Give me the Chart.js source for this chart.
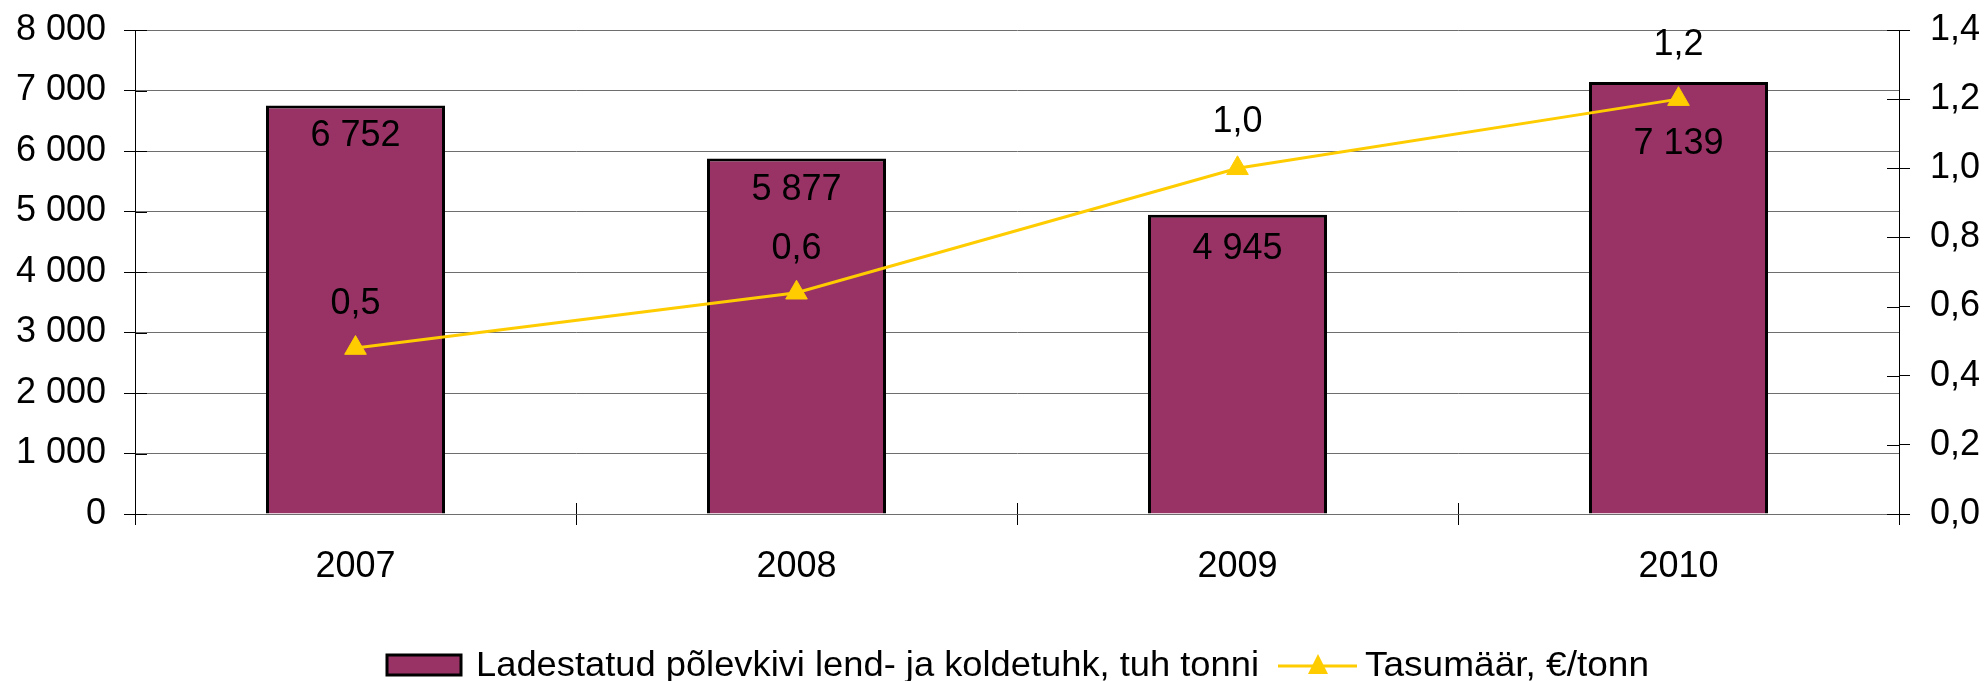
<!DOCTYPE html>
<html>
<head>
<meta charset="utf-8">
<script src="https://cdn.jsdelivr.net/npm/chart.js@4"></script>
<style>
  html, body { margin: 0; padding: 0; background: #fff; }
  canvas { display: block; }
</style>
</head>
<body>
<canvas id="ashChart" width="1986" height="681"></canvas>
<script>
// Chart data
const years = ['2007', '2008', '2009', '2010'];
const ashTonnes = [6752, 5877, 4945, 7139];
const feeRate = [0.48, 0.64, 1.0, 1.2];
const leftTicks = [0, 1000, 2000, 3000, 4000, 5000, 6000, 7000, 8000];
const rightTicks = [0, 0.2, 0.4, 0.6, 0.8, 1.0, 1.2, 1.4];

const barLabel = 'Ladestatud põlevkivi lend- ja koldetuhk, tuh tonni';
const lineLabel = 'Tasumäär, €/tonn';

const BAR_COLOR = '#993366';
const LINE_COLOR = '#FFCC00';
const FONT = '"Liberation Sans", Arial, sans-serif';

Chart.defaults.font.family = FONT;
Chart.defaults.color = '#000';

function withSpace(v) {
    return String(Math.round(v)).replace(/\B(?=(\d{3})+(?!\d))/g, ' ');
}
function withComma(v) {
    return v.toFixed(1).replace('.', ',');
}

// Value labels drawn over bars and points
const valueLabels = {
    id: 'valueLabels',
    afterDatasetsDraw(chart, args, opts) {
        const ctx = chart.ctx;
        ctx.save();
        ctx.font = '36px ' + FONT;
        ctx.fillStyle = '#000';
        ctx.textAlign = 'center';
        ctx.textBaseline = 'middle';
        chart.getDatasetMeta(0).data.forEach((bar, i) => {
            ctx.fillText(withSpace(ashTonnes[i]), bar.x, bar.y + opts.barShift[i]);
        });
        chart.getDatasetMeta(1).data.forEach((pt, i) => {
            ctx.fillText(withComma(feeRate[i]), pt.x, pt.y - opts.lineShift[i]);
        });
        ctx.restore();
    }
};

// Inner half of the axis tick marks (Excel draws them crossing the axis)
const crossTicks = {
    id: 'crossTicks',
    afterDraw(chart) {
        const ctx = chart.ctx;
        const { y, y1, x } = chart.scales;
        ctx.save();
        ctx.strokeStyle = '#000';
        ctx.lineWidth = 1;
        ctx.beginPath();
        y.ticks.forEach(t => {
            const py = Math.round(y.getPixelForValue(t.value)) + 0.5;
            ctx.moveTo(y.right, py); ctx.lineTo(y.right + 12, py);
        });
        y1.ticks.forEach(t => {
            const py = Math.round(y1.getPixelForValue(t.value)) + 0.5;
            ctx.moveTo(y1.left, py); ctx.lineTo(y1.left - 12, py);
        });
        const step = (x.right - x.left) / years.length;
        for (let i = 1; i < years.length; i++) {
            const px = Math.round(x.left + step * i) + 0.5;
            ctx.moveTo(px, x.top); ctx.lineTo(px, x.top - 11);
        }
        ctx.stroke();
        ctx.restore();
    }
};

// draw text stretched to a given width (Excel's legend text runs a bit wide)
function fitText(ctx, text, x, y, width) {
    const w = ctx.measureText(text).width;
    ctx.save();
    ctx.translate(x, y);
    ctx.scale(width / w, 1);
    ctx.fillText(text, 0, 0);
    ctx.restore();
}

// Legend at the bottom, drawn by hand to get the Excel look
const bottomLegend = {
    id: 'bottomLegend',
    afterDraw(chart) {
        const ctx = chart.ctx;
        const cy = 666;
        ctx.save();
        // bar item
        ctx.fillStyle = BAR_COLOR;
        ctx.strokeStyle = '#000';
        ctx.lineWidth = 3;
        ctx.fillRect(387, 655, 74, 20);
        ctx.strokeRect(387, 655, 74, 20);
        ctx.fillStyle = '#000';
        ctx.font = '35px ' + FONT;
        ctx.textBaseline = 'alphabetic';
        ctx.textAlign = 'left';
        fitText(ctx, barLabel, 476, 676, 783);
        // line item
        ctx.strokeStyle = LINE_COLOR;
        ctx.lineWidth = 3;
        ctx.beginPath();
        ctx.moveTo(1278, cy); ctx.lineTo(1357, cy);
        ctx.stroke();
        ctx.fillStyle = LINE_COLOR;
        ctx.beginPath();
        ctx.moveTo(1318, cy - 12); ctx.lineTo(1328, cy + 8); ctx.lineTo(1308, cy + 8);
        ctx.closePath();
        ctx.fill();
        ctx.fillStyle = '#000';
        fitText(ctx, lineLabel, 1365, 676, 284);
        ctx.restore();
    }
};

new Chart(document.getElementById('ashChart'), {
    type: 'bar',
    data: {
        labels: years,
        datasets: [
            {
                label: barLabel,
                data: ashTonnes,
                backgroundColor: BAR_COLOR,
                borderColor: '#000',
                borderWidth: 3,
                barPercentage: 0.406,
                categoryPercentage: 1,
                yAxisID: 'y',
                order: 1
            },
            {
                type: 'line',
                label: lineLabel,
                data: feeRate,
                borderColor: LINE_COLOR,
                borderWidth: 3,
                pointStyle: 'triangle',
                pointRadius: 12.5,
                pointBackgroundColor: LINE_COLOR,
                pointBorderColor: LINE_COLOR,
                pointBorderWidth: 1,
                tension: 0,
                yAxisID: 'y1',
                order: 0
            }
        ]
    },
    options: {
        responsive: false,
        animation: false,
        devicePixelRatio: 1,
        layout: { padding: { top: 30, left: 0, right: 0, bottom: 0 } },
        plugins: {
            legend: { display: false },
            tooltip: { enabled: false },
            valueLabels: { barShift: [31, 32, 34, 62], lineShift: [44, 44, 46, 54] }
        },
        scales: {
            x: {
                offset: true,
                grid: { drawOnChartArea: false, offset: true, tickLength: 11, tickColor: '#000' },
                border: { display: false },
                ticks: { font: { size: 36 }, padding: 20 },
                afterFit(scale) { scale.height = 167; }
            },
            y: {
                position: 'left',
                min: 0,
                max: 8000,
                afterBuildTicks(scale) { scale.ticks = leftTicks.map(v => ({ value: v })); },
                grid: { color: '#6e6e6e', lineWidth: 1, tickLength: 11, tickColor: '#000' },
                border: { color: '#000', width: 1 },
                ticks: { font: { size: 36 }, padding: 18, callback: v => withSpace(v) },
                afterFit(scale) { scale.width = 135; scale.paddingTop = 0; scale.paddingBottom = 0; }
            },
            y1: {
                position: 'right',
                min: 0,
                max: 1.4,
                afterBuildTicks(scale) { scale.ticks = rightTicks.map(v => ({ value: v })); },
                grid: { drawOnChartArea: false, tickLength: 11, tickColor: '#000' },
                border: { color: '#000', width: 1 },
                ticks: { font: { size: 36 }, padding: 20, callback: v => withComma(v) },
                afterFit(scale) { scale.width = 87; scale.paddingTop = 0; scale.paddingBottom = 0; }
            }
        }
    },
    plugins: [valueLabels, crossTicks, bottomLegend]
});
</script>
</body>
</html>
